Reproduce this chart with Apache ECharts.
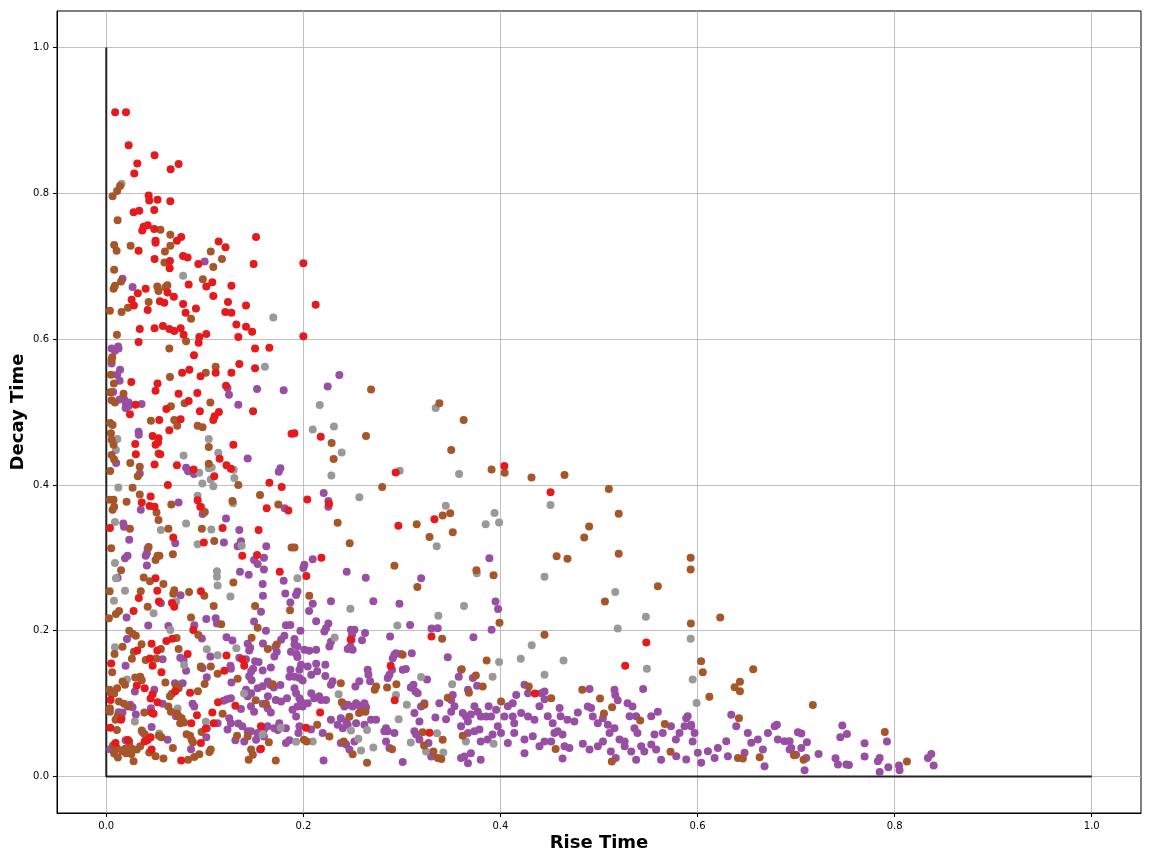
<!DOCTYPE html>
<html><head><meta charset="utf-8">
<script src="https://cdn.jsdelivr.net/npm/echarts@6/dist/echarts.min.js"></script>
<style>html,body{margin:0;padding:0;background:#fff}#c{width:1152px;height:864px}</style>
</head><body><div id="c"></div>
<script>
const tickValues = [0, 0.2, 0.4, 0.6, 0.8, 1.0];
const xLabel = 'Rise Time';
const yLabel = 'Decay Time';
const frameLine = [[0, 1], [0, 0], [1, 0]];

const redPoints = [[0.009,0.911],[0.020,0.911],[0.0227,0.866],[0.049,0.852],[0.0315,0.841],[0.0734,0.840],[0.0284,0.827],[0.0653,0.833],[0.043,0.797],[0.0436,0.790],[0.052,0.791],[0.065,0.789],[0.0277,0.774],[0.0335,0.776],[0.0487,0.777],[0.0379,0.754],[0.042,0.756],[0.0365,0.749],[0.0487,0.751],[0.076,0.740],[0.050,0.735],[0.050,0.732],[0.0717,0.735],[0.0328,0.721],[0.114,0.734],[0.121,0.726],[0.152,0.740],[0.049,0.710],[0.0646,0.707],[0.0643,0.697],[0.078,0.714],[0.0825,0.712],[0.0934,0.703],[0.1495,0.703],[0.200,0.704],[0.1076,0.678],[0.1015,0.672],[0.0836,0.675],[0.127,0.673],[0.040,0.669],[0.032,0.663],[0.0622,0.664],[0.0686,0.658],[0.1086,0.659],[0.0257,0.654],[0.028,0.646],[0.0544,0.652],[0.0589,0.650],[0.078,0.648],[0.042,0.640],[0.0805,0.636],[0.091,0.642],[0.1235,0.651],[0.1418,0.646],[0.2125,0.647],[0.1208,0.637],[0.127,0.636],[0.132,0.620],[0.1418,0.617],[0.034,0.614],[0.049,0.615],[0.0575,0.618],[0.064,0.614],[0.0755,0.615],[0.069,0.611],[0.0785,0.606],[0.0944,0.603],[0.0937,0.595],[0.1015,0.607],[0.134,0.603],[0.200,0.604],[0.148,0.610],[0.0328,0.596],[0.151,0.587],[0.1655,0.588],[0.089,0.578],[0.135,0.566],[0.151,0.560],[0.0843,0.558],[0.077,0.554],[0.0957,0.549],[0.127,0.554],[0.111,0.554],[0.0254,0.541],[0.052,0.539],[0.050,0.529],[0.0734,0.525],[0.0924,0.526],[0.1215,0.536],[0.0836,0.515],[0.0297,0.510],[0.061,0.504],[0.095,0.501],[0.1143,0.500],[0.110,0.494],[0.1086,0.489],[0.024,0.497],[0.149,0.501],[0.0538,0.489],[0.0754,0.490],[0.064,0.475],[0.047,0.467],[0.053,0.464],[0.050,0.455],[0.0525,0.458],[0.0294,0.456],[0.129,0.455],[0.188,0.470],[0.0548,0.442],[0.030,0.442],[0.115,0.436],[0.049,0.428],[0.0717,0.427],[0.0886,0.421],[0.122,0.427],[0.1265,0.422],[0.1096,0.412],[0.0625,0.400],[0.1655,0.403],[0.178,0.397],[0.045,0.384],[0.036,0.376],[0.044,0.371],[0.049,0.370],[0.0927,0.379],[0.0954,0.370],[0.1628,0.368],[0.1848,0.365],[0.0037,0.341],[0.118,0.341],[0.1546,0.338],[0.068,0.328],[0.099,0.321],[0.2176,0.466],[0.191,0.471],[0.2937,0.417],[0.404,0.426],[0.204,0.380],[0.226,0.374],[0.2964,0.344],[0.333,0.353],[0.2183,0.300],[0.4508,0.390],[0.138,0.303],[0.153,0.304],[0.176,0.281],[0.050,0.272],[0.0518,0.255],[0.096,0.254],[0.033,0.245],[0.0534,0.240],[0.0667,0.238],[0.069,0.233],[0.0277,0.227],[0.0883,0.201],[0.067,0.189],[0.061,0.186],[0.046,0.182],[0.0315,0.173],[0.0518,0.173],[0.0826,0.168],[0.122,0.166],[0.138,0.161],[0.0443,0.162],[0.047,0.152],[0.005,0.155],[0.140,0.152],[0.1198,0.145],[0.056,0.143],[0.031,0.125],[0.039,0.121],[0.070,0.117],[0.085,0.115],[0.047,0.113],[0.045,0.107],[0.0044,0.105],[0.052,0.102],[0.1134,0.102],[0.131,0.097],[0.046,0.088],[0.048,0.086],[0.1076,0.088],[0.092,0.084],[0.015,0.078],[0.0863,0.073],[0.109,0.073],[0.101,0.066],[0.157,0.069],[0.004,0.067],[0.096,0.046],[0.0094,0.046],[0.022,0.050],[0.039,0.048],[0.042,0.050],[0.045,0.054],[0.157,0.038],[0.046,0.037],[0.076,0.022],[0.203,0.275],[0.330,0.192],[0.2886,0.152],[0.2927,0.1045],[0.217,0.088],[0.2027,0.067],[0.328,0.060],[0.435,0.114],[0.548,0.184],[0.5266,0.152],[0.248,0.188]];

const brownPoints = [[0.0064,0.796],[0.011,0.803],[0.014,0.810],[0.0115,0.763],[0.055,0.750],[0.065,0.743],[0.065,0.728],[0.008,0.729],[0.0105,0.721],[0.0247,0.728],[0.0595,0.720],[0.106,0.720],[0.1174,0.710],[0.059,0.705],[0.1086,0.699],[0.008,0.695],[0.098,0.682],[0.015,0.679],[0.0074,0.669],[0.0088,0.673],[0.0518,0.672],[0.053,0.666],[0.060,0.671],[0.062,0.674],[0.0037,0.639],[0.0155,0.637],[0.022,0.643],[0.043,0.651],[0.086,0.628],[0.081,0.597],[0.064,0.587],[0.111,0.562],[0.101,0.554],[0.0646,0.548],[0.0108,0.606],[0.006,0.575],[0.0054,0.571],[0.0047,0.551],[0.0077,0.539],[0.004,0.527],[0.0175,0.525],[0.0054,0.516],[0.0088,0.513],[0.0656,0.508],[0.0795,0.512],[0.1056,0.513],[0.0453,0.488],[0.069,0.489],[0.072,0.481],[0.004,0.485],[0.0064,0.482],[0.0927,0.481],[0.0977,0.479],[0.0047,0.471],[0.0054,0.462],[0.0074,0.455],[0.104,0.452],[0.053,0.443],[0.0054,0.441],[0.008,0.435],[0.0244,0.430],[0.034,0.425],[0.032,0.412],[0.104,0.429],[0.004,0.419],[0.134,0.400],[0.0267,0.396],[0.034,0.387],[0.0037,0.3795],[0.0074,0.3795],[0.0064,0.366],[0.008,0.370],[0.0206,0.377],[0.066,0.373],[0.051,0.362],[0.053,0.352],[0.128,0.378],[0.100,0.363],[0.156,0.386],[0.1746,0.373],[0.024,0.340],[0.063,0.340],[0.097,0.340],[0.1096,0.323],[0.043,0.315],[0.005,0.313],[0.188,0.314],[0.052,0.303],[0.054,0.303],[0.050,0.297],[0.0676,0.305],[0.015,0.283],[0.038,0.273],[0.058,0.264],[0.0443,0.268],[0.129,0.266],[0.0034,0.254],[0.035,0.254],[0.069,0.2555],[0.068,0.2507],[0.084,0.253],[0.0995,0.248],[0.042,0.233],[0.013,0.227],[0.0098,0.223],[0.0027,0.217],[0.109,0.234],[0.151,0.234],[0.1865,0.228],[0.086,0.218],[0.1167,0.209],[0.1536,0.204],[0.0233,0.200],[0.0267,0.196],[0.030,0.193],[0.0934,0.194],[0.0714,0.190],[0.1475,0.1905],[0.0165,0.178],[0.0358,0.1815],[0.0554,0.175],[0.0734,0.175],[0.164,0.175],[0.173,0.181],[0.0084,0.168],[0.026,0.1616],[0.028,0.171],[0.040,0.160],[0.0508,0.162],[0.096,0.150],[0.106,0.151],[0.006,0.143],[0.113,0.141],[0.0294,0.136],[0.0345,0.137],[0.036,0.132],[0.1333,0.134],[0.060,0.129],[0.0165,0.1305],[0.019,0.126],[0.071,0.1243],[0.0734,0.121],[0.0998,0.127],[0.169,0.1267],[0.0034,0.119],[0.0047,0.1143],[0.011,0.121],[0.008,0.114],[0.093,0.117],[0.0666,0.1137],[0.0646,0.110],[0.0128,0.103],[0.022,0.096],[0.018,0.100],[0.1516,0.1048],[0.162,0.100],[0.0037,0.0938],[0.0037,0.089],[0.063,0.096],[0.0656,0.089],[0.0386,0.0878],[0.118,0.086],[0.0717,0.0865],[0.0734,0.083],[0.0765,0.080],[0.079,0.074],[0.075,0.073],[0.0094,0.078],[0.0115,0.0826],[0.0155,0.080],[0.0108,0.064],[0.036,0.063],[0.039,0.058],[0.0534,0.056],[0.056,0.054],[0.0815,0.058],[0.085,0.056],[0.0866,0.0504],[0.088,0.047],[0.0967,0.061],[0.165,0.047],[0.0676,0.039],[0.0068,0.0425],[0.011,0.0388],[0.016,0.035],[0.019,0.038],[0.0233,0.043],[0.026,0.038],[0.008,0.0315],[0.0118,0.026],[0.020,0.032],[0.0254,0.031],[0.0277,0.021],[0.0345,0.0415],[0.031,0.037],[0.0436,0.033],[0.050,0.0278],[0.058,0.0247],[0.083,0.023],[0.0893,0.0267],[0.0944,0.0305],[0.1046,0.0338],[0.106,0.037],[0.1445,0.023],[0.147,0.037],[0.1487,0.030],[0.172,0.022],[0.1327,0.056],[0.1435,0.055],[0.2687,0.531],[0.338,0.512],[0.3627,0.489],[0.2636,0.467],[0.2287,0.4575],[0.2307,0.4356],[0.350,0.448],[0.391,0.421],[0.4043,0.4166],[0.4315,0.410],[0.280,0.397],[0.2348,0.348],[0.3414,0.358],[0.349,0.361],[0.315,0.346],[0.3516,0.335],[0.328,0.3284],[0.247,0.320],[0.191,0.314],[0.2924,0.289],[0.3756,0.283],[0.393,0.276],[0.3157,0.260],[0.206,0.248],[0.399,0.211],[0.3408,0.189],[0.3008,0.167],[0.386,0.159],[0.3607,0.147],[0.375,0.1385],[0.382,0.1234],[0.368,0.115],[0.4287,0.1234],[0.238,0.128],[0.2738,0.1234],[0.2724,0.119],[0.285,0.122],[0.2944,0.1267],[0.3465,0.108],[0.239,0.102],[0.3228,0.0985],[0.2565,0.087],[0.263,0.089],[0.2467,0.082],[0.214,0.0712],[0.2264,0.055],[0.2006,0.0504],[0.2033,0.048],[0.321,0.0607],[0.3617,0.056],[0.3414,0.0504],[0.241,0.048],[0.250,0.0306],[0.3225,0.0425],[0.290,0.0376],[0.332,0.0344],[0.3363,0.0253],[0.340,0.024],[0.2646,0.019],[0.4006,0.103],[0.593,0.284],[0.5597,0.261],[0.506,0.240],[0.5932,0.210],[0.623,0.218],[0.4447,0.1945],[0.6036,0.158],[0.6053,0.143],[0.6565,0.147],[0.643,0.130],[0.6376,0.1226],[0.643,0.117],[0.483,0.119],[0.4515,0.1075],[0.612,0.1096],[0.501,0.107],[0.5133,0.095],[0.505,0.0865],[0.5418,0.0767],[0.5668,0.072],[0.642,0.080],[0.456,0.0377],[0.5726,0.034],[0.513,0.0205],[0.641,0.0253],[0.646,0.0248],[0.663,0.0265],[0.698,0.030],[0.465,0.4137],[0.510,0.3945],[0.520,0.3605],[0.490,0.343],[0.485,0.328],[0.457,0.302],[0.468,0.2986],[0.520,0.3055],[0.593,0.300],[0.717,0.098],[0.790,0.061],[0.8125,0.0205],[0.698,0.0293],[0.7076,0.023]];

const grayPoints = [[0.0155,0.813],[0.078,0.687],[0.1695,0.6295],[0.161,0.562],[0.0112,0.463],[0.0098,0.448],[0.104,0.463],[0.0785,0.4404],[0.1137,0.444],[0.104,0.423],[0.107,0.424],[0.1293,0.4207],[0.0944,0.4168],[0.130,0.4096],[0.0975,0.402],[0.106,0.4075],[0.1086,0.398],[0.0122,0.3966],[0.0927,0.385],[0.1286,0.3747],[0.0967,0.3695],[0.0088,0.349],[0.081,0.347],[0.0554,0.338],[0.1066,0.339],[0.0927,0.3185],[0.1374,0.3166],[0.0088,0.293],[0.0098,0.272],[0.019,0.255],[0.0078,0.241],[0.1123,0.2817],[0.1123,0.274],[0.113,0.262],[0.126,0.247],[0.048,0.224],[0.065,0.201],[0.071,0.240],[0.0088,0.1774],[0.102,0.1745],[0.113,0.1664],[0.132,0.176],[0.079,0.153],[0.021,0.133],[0.1398,0.114],[0.0724,0.0935],[0.101,0.075],[0.029,0.0756],[0.0538,0.0589],[0.1587,0.058],[0.177,0.067],[0.2166,0.5096],[0.2095,0.476],[0.231,0.480],[0.2389,0.4445],[0.2284,0.413],[0.3343,0.5056],[0.2978,0.4194],[0.358,0.415],[0.2568,0.383],[0.3445,0.3714],[0.394,0.3616],[0.385,0.346],[0.3986,0.3486],[0.3353,0.316],[0.194,0.272],[0.376,0.279],[0.4447,0.274],[0.2477,0.230],[0.363,0.234],[0.337,0.2205],[0.2954,0.207],[0.2318,0.1908],[0.4317,0.180],[0.4206,0.1616],[0.3986,0.157],[0.4447,0.1397],[0.3194,0.1366],[0.392,0.137],[0.351,0.1267],[0.2358,0.113],[0.294,0.112],[0.305,0.0985],[0.2967,0.0785],[0.2483,0.063],[0.2646,0.064],[0.2558,0.052],[0.2095,0.048],[0.1926,0.0477],[0.309,0.0467],[0.3356,0.0594],[0.393,0.045],[0.271,0.040],[0.2585,0.0356],[0.3245,0.0344],[0.342,0.033],[0.365,0.048],[0.5165,0.253],[0.5475,0.219],[0.519,0.203],[0.593,0.189],[0.464,0.159],[0.5486,0.148],[0.595,0.133],[0.599,0.101],[0.4508,0.3726]];

const purplePoints = [[0.0998,0.7064],[0.0165,0.6826],[0.0267,0.6716],[0.2365,0.5507],[0.2247,0.535],[0.0054,0.587],[0.0088,0.584],[0.012,0.590],[0.0125,0.587],[0.0054,0.5665],[0.014,0.558],[0.011,0.551],[0.0135,0.543],[0.007,0.5276],[0.0135,0.517],[0.018,0.518],[0.020,0.5116],[0.0226,0.513],[0.0196,0.5056],[0.0226,0.5083],[0.0358,0.511],[0.0328,0.473],[0.033,0.4687],[0.1245,0.5237],[0.123,0.533],[0.153,0.5317],[0.180,0.530],[0.134,0.510],[0.010,0.430],[0.034,0.4156],[0.081,0.4237],[0.083,0.4186],[0.089,0.415],[0.0875,0.419],[0.1435,0.4363],[0.1767,0.4227],[0.175,0.418],[0.0734,0.376],[0.035,0.366],[0.0977,0.360],[0.0173,0.347],[0.018,0.3426],[0.1215,0.354],[0.135,0.338],[0.181,0.368],[0.0233,0.3247],[0.070,0.320],[0.1194,0.321],[0.1367,0.3226],[0.1333,0.316],[0.1624,0.316],[0.042,0.3127],[0.2206,0.389],[0.2254,0.378],[0.2254,0.370],[0.2095,0.298],[0.3888,0.2995],
[0.0216,0.3027],[0.019,0.2995],[0.0412,0.3064],[0.040,0.3027],[0.0412,0.2894],[0.0115,0.2727],[0.1357,0.281],[0.1445,0.2768],[0.150,0.297],[0.1536,0.2915],[0.160,0.300],[0.160,0.284],[0.1587,0.264],[0.180,0.2685],[0.159,0.248],[0.1817,0.251],[0.0754,0.2486],[0.0554,0.2376],[0.0206,0.218],[0.157,0.226],[0.1868,0.2388],[0.1015,0.216],[0.111,0.217],[0.1123,0.210],[0.0426,0.207],[0.063,0.2066],[0.0893,0.2075],[0.150,0.2126],[0.162,0.200],[0.1823,0.2075],[0.1868,0.208],[0.1807,0.193],[0.1774,0.1877],[0.021,0.1886],[0.0196,0.152],[0.097,0.1893],[0.122,0.191],[0.128,0.1865],[0.1435,0.182],[0.146,0.1765],[0.145,0.173],[0.159,0.1826],[0.1716,0.178],[0.173,0.171],[0.1874,0.171],[0.0572,0.161],[0.0751,0.163],[0.0785,0.160],[0.1056,0.1648],[0.135,0.163],[0.1418,0.161],[0.151,0.158],[0.1546,0.157],[0.1706,0.1648],[0.081,0.145],[0.096,0.151],[0.0977,0.1486],[0.126,0.152],[0.1265,0.148],[0.147,0.144],[0.149,0.148],[0.1587,0.1453],[0.167,0.1495],[0.1858,0.137],[0.1868,0.1466],[0.102,0.1363],[0.127,0.129],[0.145,0.1374],[0.1475,0.132],[0.164,0.1305],[0.1665,0.1256],[0.170,0.122],[0.1767,0.1257],[0.029,0.1168],[0.0487,0.119],[0.074,0.126],[0.0775,0.128],[0.1265,0.1075],[0.1225,0.106],[0.119,0.104],[0.1418,0.119],[0.1435,0.110],[0.147,0.1144],[0.1536,0.121],[0.1587,0.1237],[0.164,0.110],[0.172,0.105],[0.1774,0.103],[0.1834,0.1075],[0.1587,0.100],[0.0244,0.0985],[0.0267,0.095],[0.0125,0.0883],[0.0165,0.0878],[0.030,0.085],[0.0453,0.0938],[0.0572,0.100],[0.0876,0.100],[0.0893,0.096],[0.0707,0.0826],[0.1367,0.0926],[0.1468,0.0963],[0.150,0.089],[0.1637,0.0938],[0.167,0.0878],[0.189,0.0915],[0.1248,0.080],[0.1265,0.073],[0.123,0.0644],[0.134,0.0726],[0.138,0.0690],[0.1435,0.062],[0.1468,0.062],[0.1536,0.0598],[0.160,0.0644],[0.1637,0.069],[0.1706,0.0664],[0.1756,0.073],[0.1823,0.0664],[0.113,0.073],[0.102,0.0664],[0.1015,0.054],[0.0622,0.0504],[0.0368,0.0607],[0.046,0.068],[0.004,0.0376],[0.0196,0.0497],[0.0233,0.048],[0.086,0.0376],[0.131,0.0497],[0.140,0.048],[0.152,0.0504],[0.156,0.037],[0.1823,0.046],[0.1858,0.0497],[0.160,0.055],[0.174,0.064],[0.0697,0.128],[0.0724,0.1234],
[0.201,0.2904],[0.200,0.286],[0.244,0.2808],[0.2633,0.2727],[0.3195,0.272],[0.194,0.2537],[0.1926,0.249],[0.2095,0.237],[0.228,0.2403],[0.271,0.2403],[0.2975,0.237],[0.2058,0.227],[0.213,0.213],[0.2254,0.210],[0.223,0.2034],[0.2213,0.199],[0.197,0.200],[0.2483,0.2014],[0.2518,0.2014],[0.2494,0.1945],[0.249,0.1877],[0.2477,0.1785],[0.250,0.174],[0.245,0.175],[0.2626,0.1968],[0.2595,0.1868],[0.288,0.192],[0.3083,0.208],[0.330,0.203],[0.3363,0.2034],[0.3726,0.191],[0.391,0.2014],[0.395,0.240],[0.3976,0.2297],[0.191,0.1886],[0.191,0.181],[0.194,0.1785],[0.193,0.168],[0.194,0.164],[0.201,0.174],[0.206,0.1726],[0.213,0.174],[0.2264,0.1785],[0.228,0.185],[0.1976,0.1534],[0.196,0.1466],[0.2044,0.151],[0.208,0.1397],[0.214,0.1443],[0.213,0.1548],[0.2223,0.1534],[0.2223,0.138],[0.191,0.137],[0.196,0.135],[0.1993,0.1317],[0.228,0.126],[0.2297,0.1306],[0.2653,0.1466],[0.266,0.1397],[0.2677,0.1306],[0.2568,0.1306],[0.2528,0.1234],[0.2856,0.135],[0.2873,0.1397],[0.290,0.1466],[0.2924,0.167],[0.2907,0.1623],[0.294,0.169],[0.299,0.168],[0.3008,0.1466],[0.304,0.1475],[0.31,0.169],[0.3117,0.126],[0.309,0.122],[0.3137,0.1167],[0.316,0.1144],[0.3255,0.133],[0.3465,0.1637],[0.3577,0.137],[0.360,0.1466],[0.372,0.135],[0.3763,0.1246],[0.3516,0.112],[0.350,0.105],[0.3533,0.0963],[0.350,0.089],[0.3448,0.0785],[0.338,0.1006],[0.3194,0.096],[0.3228,0.1006],[0.3127,0.087],[0.334,0.081],[0.3178,0.0755],[0.3617,0.087],[0.365,0.0823],[0.367,0.0755],[0.370,0.0852],[0.3736,0.0963],[0.377,0.089],[0.380,0.0823],[0.360,0.069],[0.367,0.0596],[0.3736,0.062],[0.3787,0.0644],[0.3854,0.0823],[0.3905,0.0823],[0.3956,0.0915],[0.404,0.0823],[0.388,0.0963],[0.4075,0.0963],[0.4125,0.1006],[0.416,0.112],[0.4244,0.126],[0.428,0.1144],[0.421,0.087],[0.4125,0.0823],[0.414,0.073],[0.428,0.0823],[0.4345,0.078],[0.4396,0.0963],[0.4413,0.1144],[0.3973,0.069],[0.4006,0.0596],[0.4075,0.046],[0.414,0.0596],[0.4244,0.0507],[0.4328,0.0552],[0.4396,0.0415],[0.392,0.0575],[0.387,0.0507],[0.380,0.048],[0.360,0.0253],[0.3634,0.0276],[0.367,0.0184],[0.370,0.0321],[0.380,0.023],[0.4244,0.0321],[0.3008,0.0198],[0.2205,0.0219],[0.191,0.121],[0.1926,0.1144],[0.196,0.1075],[0.1976,0.103],[0.208,0.1144],[0.211,0.1075],[0.216,0.110],[0.218,0.105],[0.223,0.105],[0.24,0.1006],[0.2416,0.096],[0.245,0.0985],[0.250,0.096],[0.2535,0.1006],[0.257,0.097],[0.262,0.1006],[0.2636,0.095],[0.2585,0.089],[0.228,0.078],[0.2348,0.0712],[0.238,0.080],[0.240,0.0664],[0.2434,0.0755],[0.245,0.0712],[0.2535,0.073],[0.262,0.0712],[0.2687,0.078],[0.2738,0.078],[0.2839,0.0664],[0.2822,0.062],[0.2856,0.062],[0.2924,0.0596],[0.238,0.046],[0.2434,0.0438],[0.2467,0.037],[0.2518,0.048],[0.2839,0.048],[0.2873,0.039],[0.3127,0.062],[0.3144,0.0575],[0.3178,0.0507],[0.327,0.046],[0.3297,0.0276],[0.2044,0.1006],[0.1993,0.096],[0.194,0.096],[0.1926,0.0823],[0.196,0.069],[0.195,0.0596],[0.2196,0.0596],[0.2078,0.0644],[0.367,0.119],
[0.4904,0.120],[0.5157,0.119],[0.5165,0.112],[0.519,0.1045],[0.5448,0.120],[0.4447,0.1168],[0.4447,0.106],[0.448,0.0826],[0.453,0.073],[0.460,0.094],[0.461,0.0826],[0.4548,0.0596],[0.458,0.062],[0.463,0.0575],[0.468,0.078],[0.475,0.0755],[0.4785,0.088],[0.4447,0.048],[0.4515,0.048],[0.465,0.0415],[0.470,0.039],[0.4836,0.045],[0.4904,0.037],[0.463,0.0247],[0.4886,0.096],[0.492,0.094],[0.4937,0.0823],[0.4988,0.073],[0.504,0.080],[0.509,0.071],[0.5157,0.0664],[0.5107,0.0596],[0.504,0.048],[0.4988,0.0415],[0.5208,0.0507],[0.526,0.048],[0.529,0.1006],[0.534,0.096],[0.531,0.0826],[0.5377,0.0826],[0.539,0.0596],[0.536,0.0664],[0.512,0.0344],[0.517,0.0253],[0.526,0.0415],[0.5327,0.0344],[0.5377,0.0230],[0.5428,0.0415],[0.546,0.0344],[0.553,0.0438],[0.558,0.037],[0.563,0.023],[0.553,0.0826],[0.5597,0.089],[0.5563,0.0575],[0.5647,0.0596],[0.573,0.069],[0.578,0.0507],[0.5817,0.0596],[0.5868,0.069],[0.590,0.0826],[0.5935,0.0712],[0.597,0.0596],[0.595,0.048],[0.5784,0.0278],[0.5885,0.0233],[0.6003,0.0325],[0.6037,0.0188],[0.6105,0.0347],[0.6173,0.0256],[0.6206,0.0393],[0.6291,0.0484],[0.6308,0.0278],[0.6342,0.0849],[0.6393,0.0689],[0.6477,0.0325],[0.651,0.0598],[0.6545,0.0462],[0.6612,0.0507],[0.6663,0.0370],[0.6714,0.0598],[0.6782,0.0689],[0.6815,0.0507],[0.6883,0.0484],[0.668,0.0141],[0.6951,0.039],[0.5885,0.080],[0.5935,0.069],[0.6805,0.0712],
[0.6934,0.0484],[0.6934,0.037],[0.7018,0.0607],[0.7053,0.0589],[0.711,0.047],[0.7053,0.0393],[0.700,0.030],[0.7103,0.0256],[0.7086,0.0086],[0.7228,0.031],[0.740,0.025],[0.7425,0.0164],[0.751,0.0164],[0.7536,0.016],[0.7449,0.0538],[0.7516,0.0585],[0.7469,0.070],[0.7695,0.0456],[0.7695,0.0274],[0.7848,0.0256],[0.783,0.021],[0.7922,0.048],[0.7848,0.0064],[0.7936,0.0127],[0.8044,0.015],[0.805,0.0086],[0.8338,0.0256],[0.8372,0.031],[0.8396,0.015]];

const chart = echarts.init(document.getElementById('c'), null, {renderer: 'canvas'});
const fontFam = 'DejaVu Sans, sans-serif';
function scatter(name, data, color) {
  return {name, type: 'scatter', data, symbolSize: 8, itemStyle: {color, opacity: 1}, silent: true, animation: false};
}
const axisCommon = {
  type: 'value', min: -0.05, max: 1.05,
  axisLine: {show: true, onZero: false, lineStyle: {color: '#000', width: 1}},
  axisTick: {show: true, inside: false, length: 4, lineStyle: {color: '#000'}, customValues: tickValues},
  axisLabel: {show: true, color: '#000', fontSize: 10, fontFamily: fontFam, customValues: tickValues,
              formatter: v => v.toFixed(1)},
  splitLine: {show: true, lineStyle: {color: '#b0b0b0', width: 0.8}},
  nameTextStyle: {fontSize: 18, fontWeight: 'bold', color: '#000', fontFamily: fontFam},
  nameLocation: 'middle',
  nameMoveOverlap: false
};
chart.setOption({
  animation: false,
  backgroundColor: '#fff',
  grid: {left: 57, top: 11, right: 11, bottom: 51, show: true, borderColor: '#000', borderWidth: 1,
         containLabel: false, outerBoundsMode: 'none'},
  xAxis: Object.assign({}, axisCommon, {name: xLabel, nameGap: 21}),
  yAxis: Object.assign({}, axisCommon, {name: yLabel, nameGap: 30, nameRotate: 90,
    axisLabel: Object.assign({}, axisCommon.axisLabel, {margin: 8})}),
  series: [
    {type: 'line', data: frameLine, symbol: 'none', lineStyle: {color: '#222', width: 2}, silent: true, z: 1},
    scatter('purple', purplePoints, '#984ea3'),
    scatter('gray', grayPoints, '#999999'),
    scatter('brown', brownPoints, '#a65628'),
    scatter('red', redPoints, '#e41a1c')
  ]
});
</script></body></html>
